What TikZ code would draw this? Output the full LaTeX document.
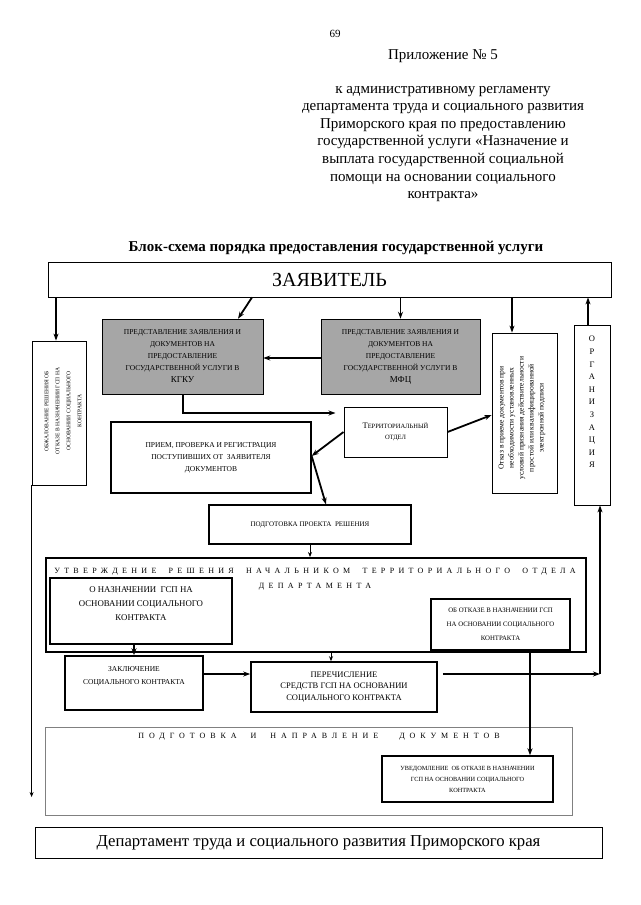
\documentclass[tikz,border=0pt]{standalone}
\usepackage{fontspec}
\setmainfont{Liberation Serif}
\newfontfamily\spacedfont[LetterSpace=54]{Liberation Serif}
\newfontfamily\widerfont[LetterSpace=62]{Liberation Serif}
\usetikzlibrary{arrows.meta, positioning}

\tikzset{
  box/.style={draw, line width=1.3pt, align=center, inner sep=1pt, font=\fontsize{7.5}{12}\selectfont},
  greybox/.style={box, fill=gray!70, line width=0.6pt},
  thinbox/.style={draw, line width=0.8pt, inner sep=0pt},
  arr/.style={-{Stealth[length=7pt,width=5pt]}, line width=1.8pt},
  thinarr/.style={-{Stealth[length=5pt,width=4pt]}, line width=0.9pt}
}

\begin{document}
\begin{tikzpicture}[x=1pt, y=-1pt]
  \useasboundingbox (0,0) rectangle (640,905);
  % Header
  \node[font=\fontsize{11}{13}\selectfont] (pagenum) at (335,34) {69};
  \node[font=\fontsize{15}{17.6}\selectfont] (annex) at (443,56) {Приложение № 5};
  \node[font=\fontsize{15}{17.6}\selectfont, align=center] (regl) at (443,144) {к административному регламенту\\департамента труда и социального развития\\Приморского края по предоставлению\\государственной услуги «Назначение и\\выплата государственной социальной\\помощи на основании социального\\контракта»};
  \node[font=\bfseries\fontsize{15}{17}\selectfont] (title) at (336,248) {Блок-схема порядка предоставления государственной услуги};
  % Applicant
  \node[thinbox, minimum width=563pt, minimum height=35pt, font=\fontsize{20}{22}\selectfont] (applicant) at (329.5,279.5) {ЗАЯВИТЕЛЬ};
  % Submission
  \node[greybox, minimum width=161pt, minimum height=75pt] (kgku) at (182.5,356.5) {ПРЕДСТАВЛЕНИЕ ЗАЯВЛЕНИЯ И\\ДОКУМЕНТОВ НА\\ПРЕДОСТАВЛЕНИЕ\\ГОСУДАРСТВЕННОЙ УСЛУГИ В\\{\fontsize{9}{12}\selectfont КГКУ}};
  \node[greybox, minimum width=159pt, minimum height=75pt] (mfc) at (400.5,356.5) {ПРЕДСТАВЛЕНИЕ ЗАЯВЛЕНИЯ И\\ДОКУМЕНТОВ НА\\ПРЕДОСТАВЛЕНИЕ\\ГОСУДАРСТВЕННОЙ УСЛУГИ В\\{\fontsize{9}{12}\selectfont МФЦ}};
  % Vertical boxes
  \node[thinbox, minimum width=54pt, minimum height=144pt] (appeal) at (59,413) {};
  \node[rotate=90, align=center, font=\fontsize{5.6}{11}\selectfont] (appealtext) at (63,411) {ОБЖАЛОВАНИЕ РЕШЕНИЯ ОБ\\ОТКАЗЕ В НАЗНАЧЕНИИ ГСП НА\\ОСНОВАНИИ СОЦИАЛЬНОГО\\КОНТРАКТА};
  \node[thinbox, minimum width=65pt, minimum height=160pt] (refuse) at (524.5,413) {};
  \node[rotate=90, align=center, font=\fontsize{7.6}{10}\selectfont] (refusetext) at (522,418) {Отказ в приеме документов при\\необходимости установленных\\условий признания действительности\\простой или квалифицированной\\электронной подписи};
  \node[thinbox, minimum width=36pt, minimum height=180pt] (org) at (592,415) {};
  \node[align=center, font=\fontsize{8.5}{12.6}\selectfont] (orgtext) at (592,402) {О\\Р\\Г\\А\\Н\\И\\З\\А\\Ц\\И\\Я};
  % Territorial department
  \node[box, line width=1pt, minimum width=103pt, minimum height=50pt, font=\fontsize{6.5}{11}\selectfont] (terr) at (395.5,432) {{\fontsize{8.5}{11}\selectfont Т}ЕРРИТОРИАЛЬНЫЙ\\ОТДЕЛ};
  % Reception and draft
  \node[box, minimum width=200pt, minimum height=71pt] (reception) at (211,457.5) {ПРИЕМ, ПРОВЕРКА И РЕГИСТРАЦИЯ\\ПОСТУПИВШИХ ОТ~~ЗАЯВИТЕЛЯ\\ДОКУМЕНТОВ};
  \node[box, line width=1.1pt, minimum width=202pt, minimum height=39pt, font=\fontsize{7}{9}\selectfont] (draft) at (310,524.5) {ПОДГОТОВКА ПРОЕКТА~~РЕШЕНИЯ};
  % Approval
  \node[draw, line width=2pt, minimum width=540pt, minimum height=94pt] (approve) at (316,605) {};
  \node[font=\spacedfont\fontsize{8}{15}\selectfont, align=center] (approvetitle) at (315,579.5) {УТВЕРЖДЕНИЕ\hspace{6pt} РЕШЕНИЯ\hspace{6pt} НАЧАЛЬНИКОМ\hspace{6pt} ТЕРРИТОРИАЛЬНОГО\hspace{6pt} ОТДЕЛА\\ДЕПАРТАМЕНТА};
  \node[draw, line width=2pt, minimum width=182pt, minimum height=66pt] (grant) at (141,611) {};
  \node[font=\fontsize{8.8}{14}\selectfont, align=center] (granttext) at (141,604) {О НАЗНАЧЕНИИ~~ГСП НА\\ОСНОВАНИИ СОЦИАЛЬНОГО\\КОНТРАКТА};
  \node[box, line width=1.6pt, minimum width=139pt, minimum height=51pt, font=\fontsize{6.8}{14}\selectfont] (deny) at (500.5,624.5) {ОБ ОТКАЗЕ В НАЗНАЧЕНИИ ГСП\\НА ОСНОВАНИИ СОЦИАЛЬНОГО\\КОНТРАКТА};
  % Contract and payment
  \node[draw, line width=1.6pt, minimum width=138pt, minimum height=54pt] (contract) at (134,683) {};
  \node[font=\fontsize{7.5}{13}\selectfont, align=center] (contracttext) at (134,676.5) {ЗАКЛЮЧЕНИЕ\\СОЦИАЛЬНОГО КОНТРАКТА};
  \node[box, line width=1.6pt, minimum width=186pt, minimum height=50pt, font=\fontsize{8.5}{11.5}\selectfont] (transfer) at (344,687) {ПЕРЕЧИСЛЕНИЕ\\СРЕДСТВ ГСП НА ОСНОВАНИИ\\СОЦИАЛЬНОГО КОНТРАКТА};
  % Documents
  \node[draw=gray, line width=0.8pt, minimum width=527pt, minimum height=88pt] (docs) at (308.5,771) {};
  \node[font=\widerfont\fontsize{8}{9}\selectfont] (docstitle) at (319,737) {ПОДГОТОВКА\hspace{7pt} И\hspace{7pt} НАПРАВЛЕНИЕ\hspace{14pt} ДОКУМЕНТОВ};
  \node[box, line width=1.4pt, minimum width=171pt, minimum height=46pt, font=\fontsize{6.3}{11}\selectfont] (notice) at (467.5,779) {УВЕДОМЛЕНИЕ~~ОБ ОТКАЗЕ В НАЗНАЧЕНИИ\\ГСП НА ОСНОВАНИИ СОЦИАЛЬНОГО\\КОНТРАКТА};
  % Department
  \node[thinbox, minimum width=567pt, minimum height=31pt, font=\fontsize{16.7}{19}\selectfont] (dept) at (318.5,842.5) {Департамент труда и социального развития Приморского края};
  % Arrows from applicant
  \draw[arr] (applicant.south -| 252,0) -- (kgku.north -| 238,0);
  \draw[arr] (applicant.south -| mfc.north) -- (mfc.north);
  \draw[arr] (applicant.south -| 56,0) -- (appeal.north -| 56,0);
  \draw[arr] (applicant.south -| 512,0) -- (refuse.north -| 512,0);
  \draw[arr, line width=1.4pt] (org.north -| 588,0) -- (applicant.south -| 588,0);
  % Routing
  \draw[arr] (mfc.west |- 0,358) -- (kgku.east |- 0,358);
  \draw[arr, shorten >=8pt] (kgku.south -| 183,0) |- (terr.west |- 0,413);
  \draw[arr] (terr.west) -- (reception.east |- 0,456);
  \draw[arr] (terr.east) -- (refuse.west |- 0,415);
  \draw[arr] (reception.east |- 0,456) -- (draft.north -| 326,0);
  \draw[thinarr] (draft.south) -- (approve.north -| draft.south);
  % Decision
  \draw[arr] (grant.south -| contract.north) -- (contract.north);
  \draw[thinarr] (approve.south -| 331,0) -- (transfer.north -| 331,0);
  \draw[arr] (contract.east |- 0,674) -- (transfer.west |- 0,674);
  \coordinate (turn) at (600,674);
  \draw[arr, shorten <=5pt] (transfer.east |- turn) -- (turn);
  \draw[arr, line width=1.4pt] (turn) -- (org.south -| turn);
  \draw[arr] (deny.south -| 530,0) -- (notice.north -| 530,0);
  \draw[thinarr, line width=0.7pt] (appeal.south west) -- (appeal.south west |- 0,797);
\end{tikzpicture}
\end{document}
